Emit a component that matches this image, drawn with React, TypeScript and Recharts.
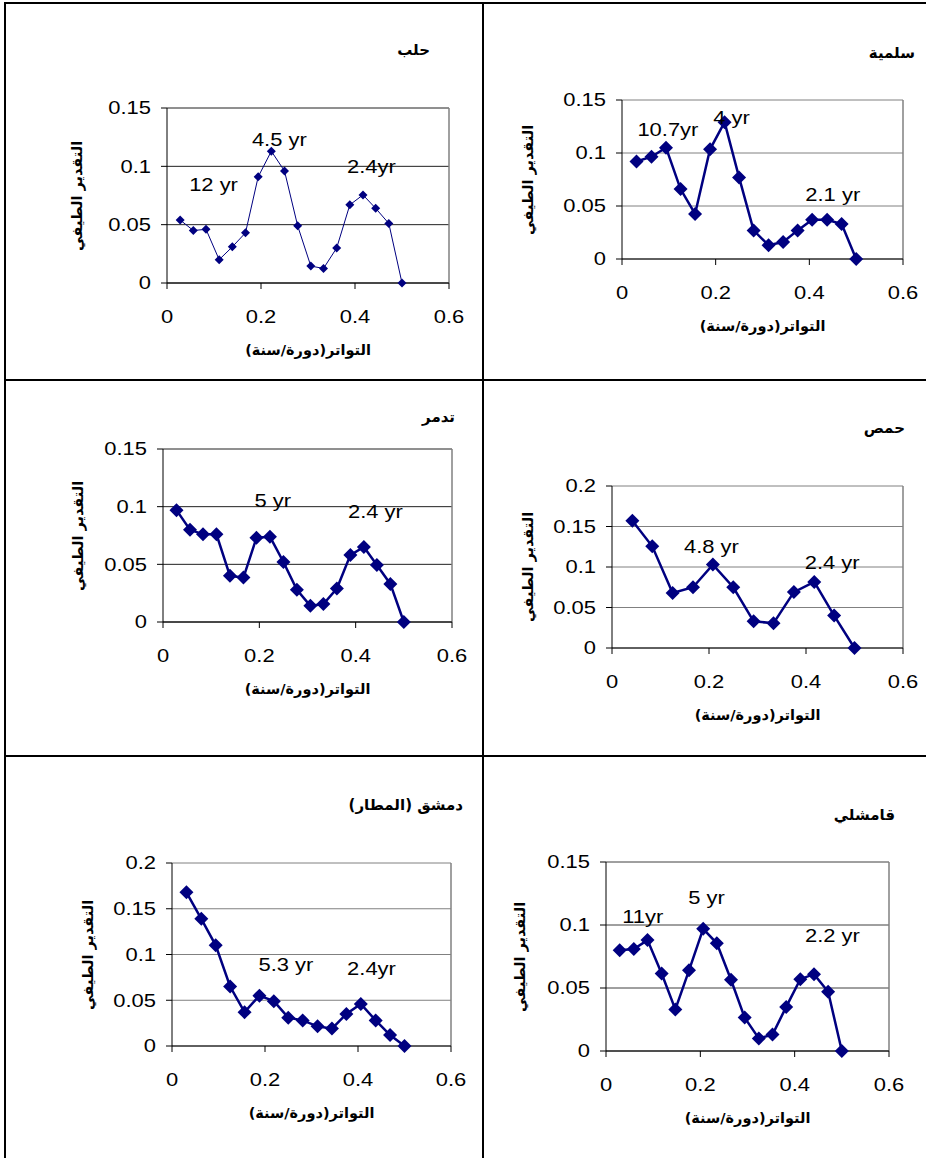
import React from "react";
import { CartesianGrid, Line, LineChart, ReferenceDot, ReferenceLine, XAxis, YAxis } from "recharts";

// frequency (cycles/year) and spectral estimate for each station
const halabFreq = [0.028, 0.056, 0.083, 0.111, 0.139, 0.167, 0.194, 0.222, 0.25, 0.278, 0.306, 0.333, 0.361, 0.389, 0.417, 0.444, 0.472, 0.5];
const halabSpec = [0.054, 0.045, 0.046, 0.02, 0.031, 0.043, 0.091, 0.113, 0.096, 0.049, 0.0145, 0.0125, 0.03, 0.067, 0.0755, 0.064, 0.051, 0];

const salamiehFreq = [0.031, 0.063, 0.094, 0.125, 0.156, 0.188, 0.219, 0.25, 0.281, 0.313, 0.344, 0.375, 0.406, 0.438, 0.469, 0.5];
const salamiehSpec = [0.092, 0.0965, 0.105, 0.066, 0.0425, 0.1035, 0.129, 0.077, 0.027, 0.013, 0.016, 0.027, 0.037, 0.037, 0.033, 0];

const tadmurFreq = [0.028, 0.056, 0.083, 0.111, 0.139, 0.167, 0.194, 0.222, 0.25, 0.278, 0.306, 0.333, 0.361, 0.389, 0.417, 0.444, 0.472, 0.5];
const tadmurSpec = [0.097, 0.08, 0.076, 0.076, 0.04, 0.0385, 0.073, 0.074, 0.052, 0.028, 0.014, 0.0155, 0.029, 0.058, 0.065, 0.0495, 0.033, 0];

const homsFreq = [0.042, 0.083, 0.125, 0.167, 0.208, 0.25, 0.292, 0.333, 0.375, 0.417, 0.458, 0.5];
const homsSpec = [0.157, 0.1255, 0.068, 0.075, 0.103, 0.075, 0.033, 0.0305, 0.069, 0.0815, 0.04, 0];

const dimashqFreq = [0.031, 0.063, 0.094, 0.125, 0.156, 0.188, 0.219, 0.25, 0.281, 0.313, 0.344, 0.375, 0.406, 0.438, 0.469, 0.5];
const dimashqSpec = [0.168, 0.139, 0.11, 0.065, 0.037, 0.055, 0.049, 0.031, 0.028, 0.0215, 0.019, 0.035, 0.046, 0.028, 0.012, 0];

const qamishliFreq = [0.029, 0.059, 0.088, 0.118, 0.147, 0.176, 0.206, 0.235, 0.265, 0.294, 0.324, 0.353, 0.382, 0.412, 0.441, 0.471, 0.5];
const qamishliSpec = [0.08, 0.081, 0.088, 0.0615, 0.033, 0.064, 0.097, 0.0855, 0.0565, 0.0265, 0.01, 0.013, 0.035, 0.057, 0.061, 0.047, 0];

// period labels: text and where it sits (freq, spectrum)
const halabPeaks = [
  { text: "12 yr", x: 0.099, y: 0.084 },
  { text: "4.5 yr", x: 0.239, y: 0.123 },
  { text: "2.4yr", x: 0.435, y: 0.0996 },
];
const salamiehPeaks = [
  { text: "10.7yr", x: 0.098, y: 0.1226 },
  { text: "4 yr", x: 0.234, y: 0.1336 },
  { text: "2.1 yr", x: 0.45, y: 0.0604 },
];
const tadmurPeaks = [
  { text: "5 yr", x: 0.228, y: 0.1057 },
  { text: "2.4 yr", x: 0.441, y: 0.096 },
];
const homsPeaks = [
  { text: "4.8 yr", x: 0.205, y: 0.1247 },
  { text: "2.4 yr", x: 0.454, y: 0.105 },
];
const dimashqPeaks = [
  { text: "5.3 yr", x: 0.245, y: 0.0896 },
  { text: "2.4yr", x: 0.429, y: 0.0852 },
];
const qamishliPeaks = [
  { text: "11yr", x: 0.078, y: 0.1069 },
  { text: "5 yr", x: 0.213, y: 0.122 },
  { text: "2.2 yr", x: 0.48, y: 0.0915 },
];

const xTicks = [0, 0.2, 0.4, 0.6];
const yTicks15 = [0, 0.05, 0.1, 0.15];
const yTicks20 = [0, 0.05, 0.1, 0.15, 0.2];

const Y_LABEL = "التقدير الطيفي";
const X_LABEL = "التواتر(دورة/سنة)";

const NAVY = "#000080";
const LATIN = "'Liberation Sans', Arial, sans-serif";
const ARABIC = "'DejaVu Sans', sans-serif";
const STRETCH = 1.22;

const toRows = (freq: number[], spec: number[]) => freq.map((f, i) => ({ f, s: spec[i] }));

type Rect = { l: number; t: number; r: number; b: number };

interface Panel {
  title: string;
  rows: { f: number; s: number }[];
  peaks: { text: string; x: number; y: number }[];
  yTicks: number[];
  plot: Rect;
  titlePos: { right: number; y: number };
  yLabelX: number;
  grid: string;
  thin?: boolean;
}

const panels: Panel[] = [
  { title: "حلب", rows: toRows(halabFreq, halabSpec), peaks: halabPeaks, yTicks: yTicks15, plot: { l: 167, t: 108, r: 449, b: 283 }, titlePos: { right: 430, y: 50 }, yLabelX: 77, grid: "#202020", thin: true },
  { title: "سلمية", rows: toRows(salamiehFreq, salamiehSpec), peaks: salamiehPeaks, yTicks: yTicks15, plot: { l: 622, t: 100, r: 903, b: 259 }, titlePos: { right: 915, y: 53 }, yLabelX: 528, grid: "#808080" },
  { title: "تدمر", rows: toRows(tadmurFreq, tadmurSpec), peaks: tadmurPeaks, yTicks: yTicks15, plot: { l: 163, t: 449, r: 452, b: 622 }, titlePos: { right: 455, y: 417 }, yLabelX: 78, grid: "#202020" },
  { title: "حمص", rows: toRows(homsFreq, homsSpec), peaks: homsPeaks, yTicks: yTicks20, plot: { l: 612, t: 486, r: 903, b: 648 }, titlePos: { right: 905, y: 428 }, yLabelX: 528, grid: "#808080" },
  { title: "دمشق (المطار)", rows: toRows(dimashqFreq, dimashqSpec), peaks: dimashqPeaks, yTicks: yTicks20, plot: { l: 172, t: 863, r: 451, b: 1046 }, titlePos: { right: 463, y: 805 }, yLabelX: 88, grid: "#808080" },
  { title: "قامشلي", rows: toRows(qamishliFreq, qamishliSpec), peaks: qamishliPeaks, yTicks: yTicks15, plot: { l: 606, t: 862, r: 889, b: 1051 }, titlePos: { right: 895, y: 815 }, yLabelX: 520, grid: "#404040" },
];

const Y_AXIS_W = 70;
const X_AXIS_H = 56;
const PAD_T = 10;
const PAD_R = 22;

const XTick = (props: any) => {
  const { x, y, payload } = props;
  return (
    <text transform={`translate(${x},${y}) scale(${STRETCH},1)`} textAnchor="middle" dy="0.71em" fontSize={18} fontFamily={LATIN} fill="#000">
      {String(payload.value)}
    </text>
  );
};

const YTick = (props: any) => {
  const { x, y, payload } = props;
  return (
    <text transform={`translate(${x},${y}) scale(${STRETCH},1)`} textAnchor="end" dy="0.355em" fontSize={18} fontFamily={LATIN} fill="#000">
      {String(payload.value)}
    </text>
  );
};

const Diamond = (r: number) => (props: any) => {
  const { cx, cy, index } = props;
  if (cx == null || cy == null) return <g key={index} />;
  return <path key={index} d={`M${cx},${cy - r}L${cx + r},${cy}L${cx},${cy + r}L${cx - r},${cy}Z`} fill={NAVY} />;
};

const PeakText = (text: string) => (props: any) => (
  <text transform={`translate(${props.cx},${props.cy}) scale(${STRETCH},1)`} textAnchor="middle" dy="0.36em" fontSize={18} fontFamily={LATIN} fill="#000">
    {text}
  </text>
);

const arabicText: React.CSSProperties = {
  position: "absolute",
  fontFamily: ARABIC,
  fontWeight: "bold",
  direction: "rtl",
  whiteSpace: "nowrap",
  color: "#000",
};

const SpectrumPanel = ({ p }: { p: Panel }) => {
  const { l, t, r, b } = p.plot;
  const width = r - l + Y_AXIS_W + PAD_R;
  const height = b - t + PAD_T + X_AXIS_H;
  const yMax = p.yTicks[p.yTicks.length - 1];
  return (
    <>
      <div style={{ position: "absolute", left: l - Y_AXIS_W, top: t - PAD_T }}>
        <LineChart width={width} height={height} data={p.rows} margin={{ top: PAD_T, right: PAD_R, left: 0, bottom: 0 }}>
          <CartesianGrid vertical={false} stroke={p.grid} strokeWidth={1} />
          <ReferenceLine x={0.6} stroke="#808080" strokeWidth={1.5} />
          <XAxis
            dataKey="f"
            type="number"
            domain={[0, 0.6]}
            ticks={xTicks}
            height={X_AXIS_H}
            tickSize={6}
            tickMargin={21}
            tick={<XTick />}
            axisLine={{ stroke: "#000" }}
            tickLine={{ stroke: "#000" }}
          />
          <YAxis
            type="number"
            domain={[0, yMax]}
            ticks={p.yTicks}
            width={Y_AXIS_W}
            tickSize={6}
            tickMargin={10}
            tick={<YTick />}
            axisLine={{ stroke: "#000" }}
            tickLine={{ stroke: "#000" }}
          />
          <Line
            dataKey="s"
            stroke={NAVY}
            strokeWidth={p.thin ? 1 : 2.5}
            dot={Diamond(p.thin ? 4.5 : 7)}
            activeDot={false}
            isAnimationActive={false}
          />
          {p.peaks.map((pk) => (
            <ReferenceDot key={pk.text} x={pk.x} y={pk.y} r={1} shape={PeakText(pk.text)} />
          ))}
        </LineChart>
      </div>
      <div style={{ ...arabicText, right: 926 - p.titlePos.right, top: p.titlePos.y - 11, fontSize: 15, lineHeight: "22px" }}>{p.title}</div>
      <div
        style={{
          ...arabicText,
          left: p.yLabelX,
          top: (t + b) / 2,
          transform: "translate(-50%,-50%) rotate(-90deg)",
          fontSize: 14.5,
          lineHeight: "20px",
        }}
      >
        {Y_LABEL}
      </div>
      <div
        style={{
          ...arabicText,
          left: (l + r) / 2,
          top: b + 67,
          transform: "translate(-50%,-50%)",
          fontSize: 14.5,
          lineHeight: "20px",
        }}
      >
        {X_LABEL}
      </div>
    </>
  );
};

export default function App() {
  return (
    <div style={{ position: "absolute", left: 0, top: 0, width: 926, height: 1158, background: "#fff", overflow: "hidden" }}>
      {/* table frame around the six panels */}
      <div style={{ position: "absolute", left: 4, top: 2, width: 940, height: 1170, border: "2px solid #000", boxSizing: "border-box" }} />
      <div style={{ position: "absolute", left: 482, top: 2, width: 2, height: 1158, background: "#000" }} />
      <div style={{ position: "absolute", left: 4, top: 379, width: 930, height: 2, background: "#000" }} />
      <div style={{ position: "absolute", left: 4, top: 755, width: 930, height: 2, background: "#000" }} />
      {panels.map((p) => (
        <SpectrumPanel key={p.title} p={p} />
      ))}
    </div>
  );
}
